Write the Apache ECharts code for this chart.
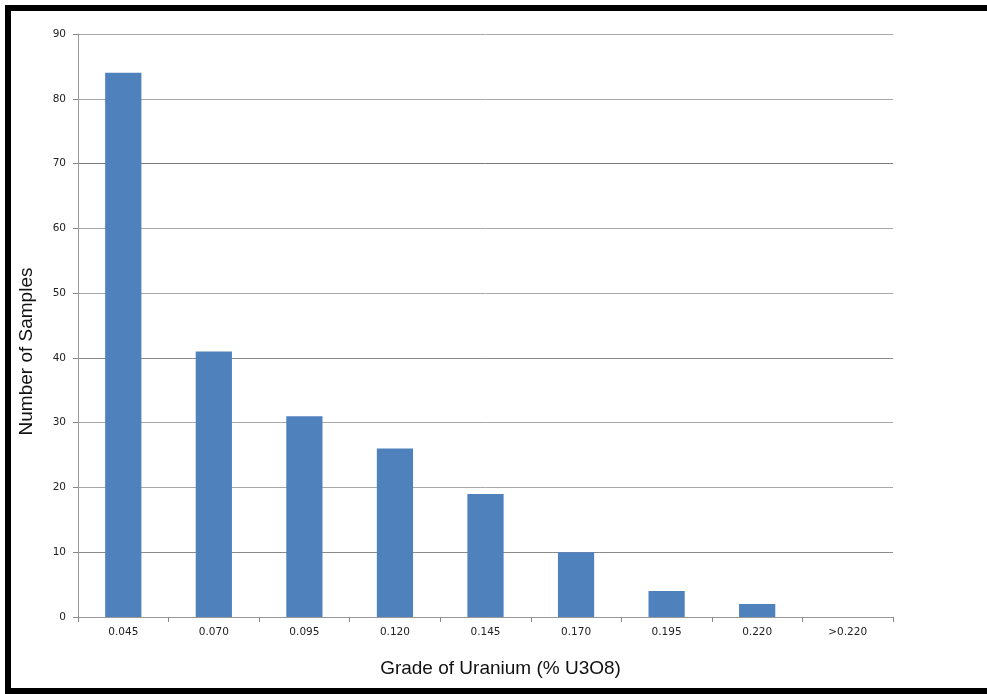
<!DOCTYPE html>
<html>
<head>
<meta charset="utf-8">
<script src="https://cdn.jsdelivr.net/npm/echarts@6/dist/echarts.min.js"></script>
<style>
  html, body { margin: 0; padding: 0; background: #fff; overflow: hidden; }
  #frame {
    position: absolute; left: 5px; top: 5px; width: 1000px; height: 677px;
    border: 6px solid #000; box-sizing: content-box;
  }
  #chart { position: absolute; left: 0; top: 0; width: 987px; height: 694px; }
</style>
</head>
<body>
<div id="chart"></div>
<div id="frame"></div>
<script>
// Grade bins (% U3O8) and sample counts per bin
const gradeBins = ['0.045', '0.070', '0.095', '0.120', '0.145', '0.170', '0.195', '0.220', '>0.220'];
const sampleCounts = [84, 41, 31, 26, 19, 10, 4, 2, 0];
const yTicks = { min: 0, max: 90, interval: 10 };

const chart = echarts.init(document.getElementById('chart'), null, { renderer: 'canvas' });

const gridColors = ['#a8a8a8', '#8a8a8a', '#a8a8a8', '#a8a8a8', '#8a8a8a', '#a8a8a8', '#a8a8a8', '#7a7a7a', '#a8a8a8', '#a8a8a8'];

chart.setOption({
  animation: false,
  backgroundColor: '#fff',
  grid: { left: 78, right: 94, top: 34, bottom: 77, containLabel: false },
  xAxis: {
    type: 'category',
    data: gradeBins,
    boundaryGap: true,
    name: 'Grade of Uranium (% U3O8)',
    nameLocation: 'middle',
    nameGap: 42,
    nameTextStyle: { fontFamily: 'Liberation Sans', fontSize: 19, color: '#111', padding: [0, 0, 0, 30] },
    axisLine: { lineStyle: { color: '#999', width: 1 } },
    axisTick: { show: true, alignWithLabel: false, length: 5, lineStyle: { color: '#888' } },
    axisLabel: { fontFamily: 'DejaVu Sans', fontSize: 10.5, color: '#222', margin: 10 }
  },
  yAxis: {
    type: 'value',
    min: yTicks.min,
    max: yTicks.max,
    interval: yTicks.interval,
    name: 'Number of Samples',
    nameLocation: 'middle',
    nameGap: 42,
    nameTextStyle: { fontFamily: 'Liberation Sans', fontSize: 19, color: '#111', padding: [0, 52, 0, 0] },
    axisLine: { show: true, lineStyle: { color: '#999', width: 1 } },
    axisTick: { show: true, length: 5, lineStyle: { color: '#888' } },
    axisLabel: { fontFamily: 'DejaVu Sans', fontSize: 10.5, color: '#222', margin: 12 },
    splitLine: { show: true, lineStyle: { color: gridColors, width: 1 } }
  },
  series: [{
    type: 'bar',
    data: sampleCounts,
    barWidth: '40%',
    itemStyle: { color: '#4f81bd' }
  }]
});
</script>
</body>
</html>
